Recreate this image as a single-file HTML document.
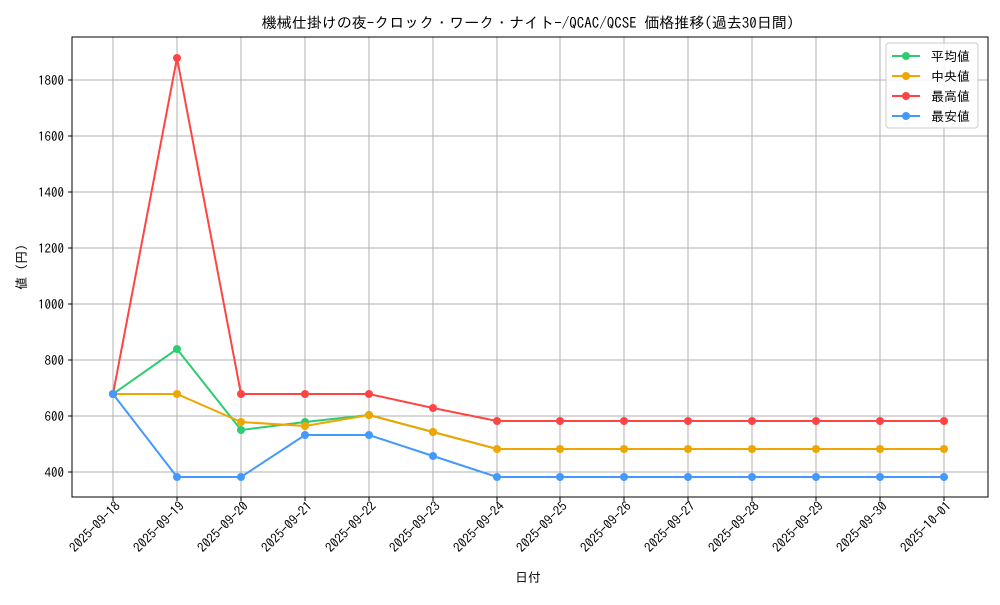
<!DOCTYPE html>
<html><head><meta charset="utf-8"><style>
body{margin:0;background:#fff}
svg text{font-family:"IPAGothic","Noto Sans CJK JP",monospace;fill:#000}
</style></head><body>
<svg width="1000" height="600" xmlns="http://www.w3.org/2000/svg">
<rect width="1000" height="600" fill="#fff"/>
<g stroke="#b0b0b0" stroke-width="1">
<line x1="113" y1="37" x2="113" y2="497"/><line x1="177" y1="37" x2="177" y2="497"/><line x1="241" y1="37" x2="241" y2="497"/><line x1="305" y1="37" x2="305" y2="497"/><line x1="369" y1="37" x2="369" y2="497"/><line x1="433" y1="37" x2="433" y2="497"/><line x1="497" y1="37" x2="497" y2="497"/><line x1="560" y1="37" x2="560" y2="497"/><line x1="624" y1="37" x2="624" y2="497"/><line x1="688" y1="37" x2="688" y2="497"/><line x1="752" y1="37" x2="752" y2="497"/><line x1="816" y1="37" x2="816" y2="497"/><line x1="880" y1="37" x2="880" y2="497"/><line x1="944" y1="37" x2="944" y2="497"/>
<line x1="72" y1="472" x2="988" y2="472"/><line x1="72" y1="416" x2="988" y2="416"/><line x1="72" y1="360" x2="988" y2="360"/><line x1="72" y1="304" x2="988" y2="304"/><line x1="72" y1="248" x2="988" y2="248"/><line x1="72" y1="192" x2="988" y2="192"/><line x1="72" y1="136" x2="988" y2="136"/><line x1="72" y1="80" x2="988" y2="80"/>
</g>
<rect x="72" y="37" width="916" height="460" fill="none" stroke="#000" stroke-width="1"/>
<g stroke="#000"><line x1="68" y1="472" x2="72" y2="472"/><line x1="68" y1="416" x2="72" y2="416"/><line x1="68" y1="360" x2="72" y2="360"/><line x1="68" y1="304" x2="72" y2="304"/><line x1="68" y1="248" x2="72" y2="248"/><line x1="68" y1="192" x2="72" y2="192"/><line x1="68" y1="136" x2="72" y2="136"/><line x1="68" y1="80" x2="72" y2="80"/></g>
<g font-size="13" text-anchor="end"><text x="64" y="477">400</text><text x="64" y="421">600</text><text x="64" y="365">800</text><text x="64" y="309">1000</text><text x="64" y="253">1200</text><text x="64" y="197">1400</text><text x="64" y="141">1600</text><text x="64" y="85">1800</text></g>
<g font-size="13" text-anchor="end">
<text transform="translate(121,507) rotate(-45)">2025-09-18</text><text transform="translate(185,507) rotate(-45)">2025-09-19</text><text transform="translate(249,507) rotate(-45)">2025-09-20</text><text transform="translate(313,507) rotate(-45)">2025-09-21</text><text transform="translate(377,507) rotate(-45)">2025-09-22</text><text transform="translate(441,507) rotate(-45)">2025-09-23</text><text transform="translate(505,507) rotate(-45)">2025-09-24</text><text transform="translate(568,507) rotate(-45)">2025-09-25</text><text transform="translate(632,507) rotate(-45)">2025-09-26</text><text transform="translate(696,507) rotate(-45)">2025-09-27</text><text transform="translate(760,507) rotate(-45)">2025-09-28</text><text transform="translate(824,507) rotate(-45)">2025-09-29</text><text transform="translate(888,507) rotate(-45)">2025-09-30</text><text transform="translate(952,507) rotate(-45)">2025-10-01</text>
</g>
<g stroke="#000"><line x1="113" y1="497" x2="113" y2="501"/><line x1="177" y1="497" x2="177" y2="501"/><line x1="241" y1="497" x2="241" y2="501"/><line x1="305" y1="497" x2="305" y2="501"/><line x1="369" y1="497" x2="369" y2="501"/><line x1="433" y1="497" x2="433" y2="501"/><line x1="497" y1="497" x2="497" y2="501"/><line x1="560" y1="497" x2="560" y2="501"/><line x1="624" y1="497" x2="624" y2="501"/><line x1="688" y1="497" x2="688" y2="501"/><line x1="752" y1="497" x2="752" y2="501"/><line x1="816" y1="497" x2="816" y2="501"/><line x1="880" y1="497" x2="880" y2="501"/><line x1="944" y1="497" x2="944" y2="501"/></g>
<text x="528" y="582" font-size="13" text-anchor="middle">日付</text>
<text transform="translate(26,267) rotate(-90)" font-size="13" text-anchor="middle">値 (円)</text>
<text x="528" y="28" font-size="15" text-anchor="middle">機械仕掛けの夜-クロック・ワーク・ナイト-/QCAC/QCSE 価格推移(過去30日間)</text>
<g fill="none" stroke-width="2">
<polyline stroke="#2ecc71" points="113,394 177,349 241,430 305,422 369,415 433,432 497,449 944,449"/>
<polyline stroke="#f0a500" points="113,394 177,394 241,422 305,426 369,415 433,432 497,449 944,449"/>
<polyline stroke="#ff4444" points="113,394 177,58 241,394 305,394 369,394 433,408 497,421 944,421"/>
<polyline stroke="#4499ff" points="113,394 177,477 241,477 305,435 369,435 433,456 497,477 944,477"/>
</g>
<g fill="#2ecc71"><circle cx="113" cy="394" r="4"/><circle cx="177" cy="349" r="4"/><circle cx="241" cy="430" r="4"/><circle cx="305" cy="422" r="4"/><circle cx="369" cy="415" r="4"/><circle cx="433" cy="432" r="4"/></g>
<g fill="#f0a500"><circle cx="113" cy="394" r="4"/><circle cx="177" cy="394" r="4"/><circle cx="241" cy="422" r="4"/><circle cx="305" cy="426" r="4"/><circle cx="369" cy="415" r="4"/><circle cx="433" cy="432" r="4"/><circle cx="497" cy="449" r="4"/><circle cx="560" cy="449" r="4"/><circle cx="624" cy="449" r="4"/><circle cx="688" cy="449" r="4"/><circle cx="752" cy="449" r="4"/><circle cx="816" cy="449" r="4"/><circle cx="880" cy="449" r="4"/><circle cx="944" cy="449" r="4"/></g>
<g fill="#ff4444"><circle cx="113" cy="394" r="4"/><circle cx="177" cy="58" r="4"/><circle cx="241" cy="394" r="4"/><circle cx="305" cy="394" r="4"/><circle cx="369" cy="394" r="4"/><circle cx="433" cy="408" r="4"/><circle cx="497" cy="421" r="4"/><circle cx="560" cy="421" r="4"/><circle cx="624" cy="421" r="4"/><circle cx="688" cy="421" r="4"/><circle cx="752" cy="421" r="4"/><circle cx="816" cy="421" r="4"/><circle cx="880" cy="421" r="4"/><circle cx="944" cy="421" r="4"/></g>
<g fill="#4499ff"><circle cx="113" cy="394" r="4"/><circle cx="177" cy="477" r="4"/><circle cx="241" cy="477" r="4"/><circle cx="305" cy="435" r="4"/><circle cx="369" cy="435" r="4"/><circle cx="433" cy="456" r="4"/><circle cx="497" cy="477" r="4"/><circle cx="560" cy="477" r="4"/><circle cx="624" cy="477" r="4"/><circle cx="688" cy="477" r="4"/><circle cx="752" cy="477" r="4"/><circle cx="816" cy="477" r="4"/><circle cx="880" cy="477" r="4"/><circle cx="944" cy="477" r="4"/></g>
<rect x="886" y="43" width="92" height="85" rx="3" fill="#fff" fill-opacity="0.85" stroke="#ccc"/>
<g stroke-width="2">
<line x1="892" y1="56" x2="920" y2="56" stroke="#2ecc71"/><circle cx="906" cy="56" r="4" fill="#2ecc71"/>
<line x1="892" y1="76" x2="920" y2="76" stroke="#f0a500"/><circle cx="906" cy="76" r="4" fill="#f0a500"/>
<line x1="892" y1="96" x2="920" y2="96" stroke="#ff4444"/><circle cx="906" cy="96" r="4" fill="#ff4444"/>
<line x1="892" y1="116" x2="920" y2="116" stroke="#4499ff"/><circle cx="906" cy="116" r="4" fill="#4499ff"/>
</g>
<g font-size="13"><text x="931" y="61">平均値</text><text x="931" y="81"> 中央値</text><text x="931" y="101">最高値</text><text x="931" y="121">最安値</text></g>
</svg>
</body></html>
